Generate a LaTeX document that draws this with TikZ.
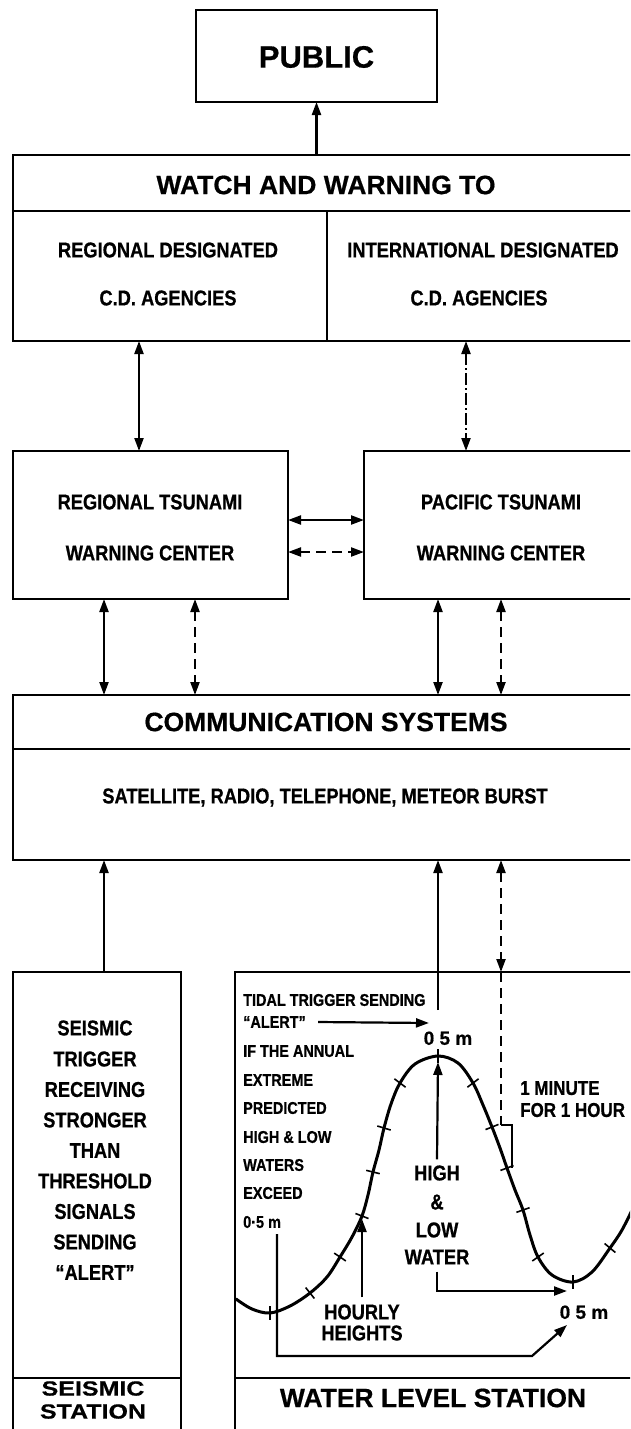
\documentclass[tikz,border=0pt]{standalone}
\usepackage{fontspec}
\setmainfont{Liberation Sans}
\newfontfamily\cnd[FakeStretch=0.85,FakeBold=0.7]{Liberation Sans}
\newfontfamily\hvy[FakeBold=0.6]{Liberation Sans}
\newfontfamily\wde[FakeStretch=1.22,FakeBold=0.6]{Liberation Sans}
\usetikzlibrary{arrows.meta,calc}
\newcommand\hrtick[4]{\draw[tickln] (#1,#2) ++({-7*#3},{-7*#4}) -- ++({14*#3},{14*#4});}
\begin{document}
\begin{tikzpicture}[x=1pt,y=-1pt,
  box/.style={draw,line width=2.4pt,inner sep=0pt,outer sep=0pt},
  divl/.style={line width=2.4pt},
  conn/.style={line width=2.2pt,>={Triangle[length=13pt,width=9pt]}},
  dsh/.style={dash pattern=on 10pt off 6pt},
  ddot/.style={dash pattern=on 12pt off 3pt on 2pt off 3pt},
  tickln/.style={line width=1.6pt},
  big/.style={font=\hvy\fontsize{31}{31}\selectfont\bfseries,text height=21.3pt,text depth=0pt,inner sep=0pt},
  head/.style={font=\hvy\fontsize{26.5}{26.5}\selectfont\bfseries,text height=18.2pt,text depth=0pt,inner sep=0pt},
  sst/.style={font=\wde\fontsize{20.5}{23}\selectfont\bfseries,align=center,inner sep=0pt},
  lbl/.style={font=\cnd\fontsize{21.5}{21.5}\selectfont\bfseries,text height=14.8pt,text depth=0pt,inner sep=0pt},
  sml/.style={font=\cnd\fontsize{17}{17}\selectfont\bfseries,text height=11.7pt,text depth=0pt,inner sep=0pt,anchor=west},
  mid/.style={font=\cnd\fontsize{20}{20}\selectfont\bfseries,text height=13.8pt,text depth=0pt,inner sep=0pt,anchor=west},
  num/.style={font=\hvy\fontsize{19}{19}\selectfont\bfseries,text height=13.6pt,text depth=0pt,inner sep=0pt}]
\useasboundingbox (0,0) rectangle (630,1429);
\clip (0,0) rectangle (630,1429);

% ---------- boxes ----------
\node[box,minimum width=241pt,minimum height=92pt] (public) at (316.5,56) {};
\node[box,minimum width=637pt,minimum height=186pt] (watch) at (331.5,248) {};
\node[box,minimum width=275pt,minimum height=148pt] (regional) at (150.5,525) {};
\node[box,minimum width=286pt,minimum height=148pt] (pacific) at (507,525) {};
\node[box,minimum width=637pt,minimum height=165pt] (comm) at (331.5,777.5) {};
\node[box,minimum width=168pt,minimum height=468pt] (seismic) at (97,1206) {};
\node[box,minimum width=415pt,minimum height=468pt] (water) at (442.5,1206) {};

% dividers
\draw[divl] (13,211) -- (650,211);
\draw[divl] (327,211) -- (327,341);
\draw[divl] (13,749) -- (650,749);
\draw[divl] (13,1378) -- (181,1378);
\draw[divl] (235,1378) -- (650,1378);

% ---------- texts ----------
\node[big] (tpub) at (316.5,57) {PUBLIC};
\node[head] (twatch) at (326,185) {WATCH AND WARNING TO};
\node[lbl] (tr1) at (168,250) {REGIONAL DESIGNATED};
\node[lbl] (tr2) at (168,298) {C.D. AGENCIES};
\node[lbl] (ti1) at (483,250) {INTERNATIONAL DESIGNATED};
\node[lbl] (ti2) at (479,298) {C.D. AGENCIES};
\node[lbl] (trt1) at (150,502) {REGIONAL TSUNAMI};
\node[lbl] (trt2) at (150,553) {WARNING CENTER};
\node[lbl] (tpt1) at (501,502) {PACIFIC TSUNAMI};
\node[lbl] (tpt2) at (501,553) {WARNING CENTER};
\node[head] (tcomm) at (326,722) {COMMUNICATION SYSTEMS};
\node[lbl] (tsat) at (325,796) {SATELLITE, RADIO, TELEPHONE, METEOR BURST};

\node[lbl] (s1) at (95,1028) {SEISMIC};
\node[lbl] (s2) at (95,1059) {TRIGGER};
\node[lbl] (s3) at (95,1089.5) {RECEIVING};
\node[lbl] (s4) at (95,1120) {STRONGER};
\node[lbl] (s5) at (95,1150.5) {THAN};
\node[lbl] (s6) at (95,1181) {THRESHOLD};
\node[lbl] (s7) at (95,1211.5) {SIGNALS};
\node[lbl] (s8) at (95,1242) {SENDING};
\node[lbl] (s9) at (95,1272.5) {“ALERT”};
\node[sst] (sst) at (93,1400) {SEISMIC\\STATION};
\node[head] (twls) at (433,1398) {WATER LEVEL STATION};

\node[sml] (w1) at (243,1000) {TIDAL TRIGGER SENDING};
\node[sml] (w2) at (243,1022) {“ALERT”};
\node[sml] (w3) at (243,1051) {IF THE ANNUAL};
\node[sml] (w4) at (243,1080) {EXTREME};
\node[sml] (w5) at (243,1108) {PREDICTED};
\node[sml] (w6) at (243,1137) {HIGH \& LOW};
\node[sml] (w7) at (243,1165) {WATERS};
\node[sml] (w8) at (243,1193) {EXCEED};
\node[sml] (w9) at (243,1222) {0·5 m};
\node[num] (top05) at (448,1038) {0 5 m};
\node[num] (low05) at (584,1312) {0 5 m};
\node[mid] (min1) at (520,1088) {1 MINUTE};
\node[mid] (min2) at (520,1110) {FOR 1 HOUR};
\node[lbl] (high) at (437,1173) {HIGH};
\node[lbl] (amp) at (437,1202) {\&};
\node[lbl] (low) at (437,1230) {LOW};
\node[lbl] (wtr) at (437,1257) {WATER};
\node[lbl] (hourly) at (362,1312) {HOURLY};
\node[lbl] (heights) at (362,1333) {HEIGHTS};

% ---------- coordinates ----------
\coordinate (cA) at (139,0);
\coordinate (cB) at (466,0);
\coordinate (cC) at (104,0);
\coordinate (cD) at (195,0);
\coordinate (cE) at (438,0);
\coordinate (cF) at (501,0);
\coordinate (cy1) at (0,520);
\coordinate (cy2) at (0,552);
\coordinate (te) at (438,1010);
\coordinate (alertend) at (429,1023);
\coordinate (b1) at (501,1125);
\coordinate (b2) at (512,1125);
\coordinate (b3) at (512,1168);
\coordinate (peaktip) at (438,1062);
\coordinate (lowtip) at (567,1291);
\coordinate (hrtip) at (362,1219);
\coordinate (h1) at (277,1234);
\coordinate (h2) at (277,1356);
\coordinate (h3) at (532,1356);
\coordinate (h4) at (567,1325);

% ---------- connectors ----------
\draw[conn,->] (watch.north -| public.south) -- (public.south);
\draw[conn,<->] (watch.south -| cA) -- (regional.north -| cA);
\draw[conn,ddot,<->] (watch.south -| cB) -- (pacific.north -| cB);
\draw[conn,<->] (regional.east |- cy1) -- (pacific.west |- cy1);
\draw[conn,dsh,<->] (regional.east |- cy2) -- (pacific.west |- cy2);
\draw[conn,<->] (regional.south -| cC) -- (comm.north -| cC);
\draw[conn,dsh,<->] (regional.south -| cD) -- (comm.north -| cD);
\draw[conn,<->] (pacific.south -| cE) -- (comm.north -| cE);
\draw[conn,dsh,<->] (pacific.south -| cF) -- (comm.north -| cF);
\draw[conn,->] (seismic.north -| cC) -- (comm.south -| cC);
\draw[conn,->] (te) -- (comm.south -| cE);
\draw[conn,dsh,<->] (comm.south -| cF) -- (water.north -| cF);
\draw[conn,dsh] (water.north -| cF) -- (b1);
\draw[conn] (b1) -- (b2) -- (b3);
\draw[conn,->] ($(w2.east)+(12,0)$) -- (alertend);
\draw[conn,->] ($(high.north)+(0,-6)$) -- (peaktip);
\draw[conn,->] ($(wtr.south)+(0,7)$) |- (lowtip);
\draw[conn,->] ($(hourly.north)+(0,-7)$) -- (hrtip);
\draw[conn,->] (h1) -- (h2) -- (h3) -- (h4);

% ---------- tide curve ----------
\draw[line width=3pt,line cap=round] plot[smooth,tension=0.55] coordinates {
 (236,1299) (252,1309) (270,1313) (290,1306) (310,1293) (327,1277) (340,1257)
 (352,1237) (362,1216) (368,1195) (373,1172) (379,1150) (384,1128) (391,1104)
 (400,1083) (415,1064) (438,1056) (458,1063) (473,1083) (483,1105) (492,1127)
 (500,1148) (507,1168) (515,1190) (523,1210) (530,1235) (538,1257) (552,1275)
 (573,1282) (592,1272) (610,1248) (622,1230) (634,1206)};
% hourly ticks
\hrtick{270}{1313}{0}{1}
\hrtick{310}{1293}{0.62}{0.78}
\hrtick{340}{1257}{0.83}{0.56}
\hrtick{362}{1216}{0.93}{0.36}
\hrtick{373}{1172}{0.97}{0.24}
\hrtick{384}{1128}{0.96}{0.29}
\hrtick{400}{1083}{0.8}{0.6}
\hrtick{438}{1056}{0}{1}
\hrtick{473}{1083}{0.8}{-0.6}
\hrtick{492}{1127}{0.93}{-0.37}
\hrtick{507}{1168}{0.94}{-0.35}
\hrtick{523}{1210}{0.94}{-0.33}
\hrtick{538}{1257}{0.82}{-0.57}
\hrtick{573}{1282}{0}{1}
\hrtick{610}{1248}{0.77}{0.64}
\end{tikzpicture}
\end{document}
